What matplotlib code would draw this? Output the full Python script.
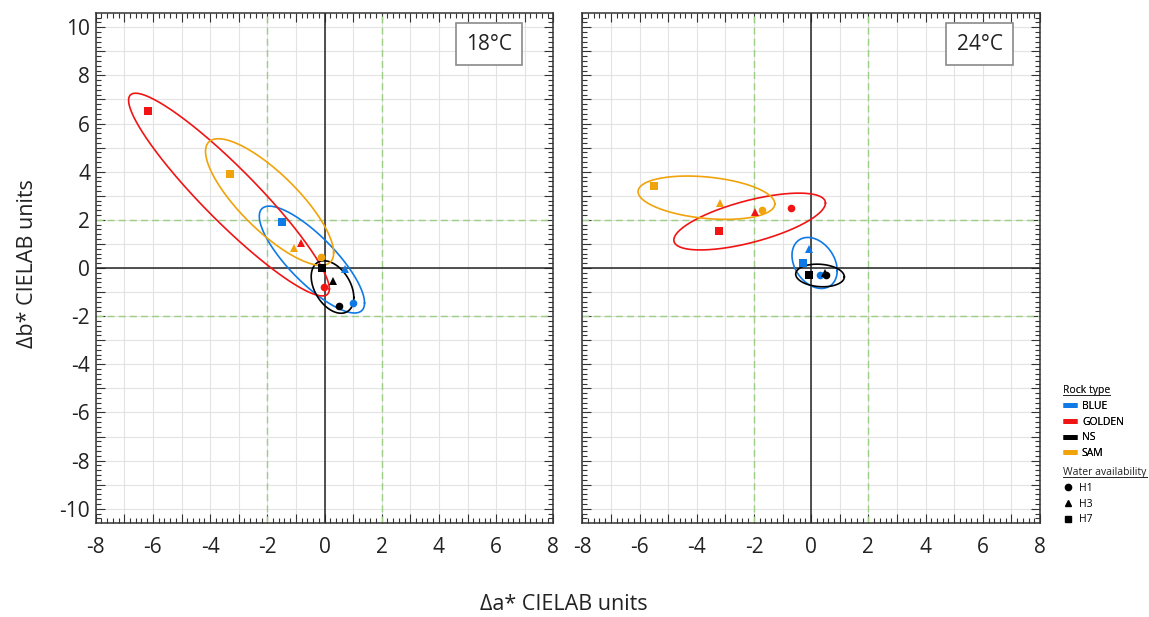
import numpy as np
import matplotlib
matplotlib.use("Agg")
import matplotlib.pyplot as plt
from matplotlib.lines import Line2D
from matplotlib.ticker import MultipleLocator

plt.rcParams['font.family'] = ['Open Sans', 'DejaVu Sans']

# ---------------- data ----------------
rock_types = ["BLUE", "GOLDEN", "NS", "SAM"]
rock_colors = ["#0f7ae5", "#f01414", "#000000", "#f0a30a"]
water = ["H1", "H3", "H7"]
water_markers = ["o", "^", "s"]

# 18 °C : (x, y) per rock type for H1, H3, H7
a18_blue = [0.99, 0.70, -1.49]
b18_blue = [-1.46, -0.05, 1.92]
a18_golden = [-0.01, -0.82, -6.18]
b18_golden = [-0.79, 1.05, 6.54]
a18_ns = [0.52, 0.30, -0.08]
b18_ns = [-1.56, -0.56, 0.00]
a18_sam = [-0.13, -1.08, -3.29]
b18_sam = [0.47, 0.83, 3.90]

# 24 °C
a24_blue = [0.31, -0.08, -0.27]
b24_blue = [-0.28, 0.78, 0.22]
a24_golden = [-0.72, -1.98, -3.22]
b24_golden = [2.50, 2.32, 1.55]
a24_ns = [0.51, 0.48, -0.06]
b24_ns = [-0.28, -0.20, -0.31]
a24_sam = [-1.72, -3.17, -5.49]
b24_sam = [2.39, 2.71, 3.40]

# ellipses: centre x, centre y, half-range x, half-range y, correlation (BLUE, GOLDEN, NS, SAM)
ell18_cx = [-0.44, -3.34, 0.28, -1.92]
ell18_cy = [0.35, 3.05, -0.79, 2.74]
ell18_rx = [1.84, 3.51, 0.745, 2.24]
ell18_ry = [2.22, 4.21, 1.09, 2.63]
ell18_rho = [-0.81, -0.93, -0.40, -0.80]

ell24_cx = [0.12, -2.15, 0.31, -3.66]
ell24_cy = [0.21, 1.93, -0.31, 2.92]
ell24_rx = [0.79, 2.65, 0.85, 2.39]
ell24_ry = [1.06, 1.18, 0.47, 0.90]
ell24_rho = [-0.30, 0.65, -0.12, -0.28]

panel_titles = ["18°C", "24°C"]
xticks = [-8, -6, -4, -2, 0, 2, 4, 6, 8]
yticks = [-10, -8, -6, -4, -2, 0, 2, 4, 6, 8, 10]

# ---------------- figure ----------------
W, H = 1149, 617
fig = plt.figure(figsize=(W / 100, H / 100), dpi=100)
ax1 = fig.add_axes([95.7 / W, 1 - 522.7 / H, 457.6 / W, 509.4 / H])
ax2 = fig.add_axes([582.3 / W, 1 - 522.7 / H, 457.7 / W, 509.4 / H])

panels = [
    (ax1, [(a18_blue, b18_blue), (a18_golden, b18_golden), (a18_ns, b18_ns), (a18_sam, b18_sam)],
     (ell18_cx, ell18_cy, ell18_rx, ell18_ry, ell18_rho), 0.8595),
    (ax2, [(a24_blue, b24_blue), (a24_golden, b24_golden), (a24_ns, b24_ns), (a24_sam, b24_sam)],
     (ell24_cx, ell24_cy, ell24_rx, ell24_ry, ell24_rho), 0.868),
]

t = np.linspace(0, 2 * np.pi, 400)
for i, (ax, pts, ell, tx) in enumerate(panels):
    ax.set_xlim(-8, 8)
    ax.set_ylim(-10.58, 10.58)
    ax.xaxis.set_minor_locator(MultipleLocator(0.2))
    ax.yaxis.set_minor_locator(MultipleLocator(0.2))
    ax.set_xticks([v for v in range(-8, 9)])
    ax.set_xticklabels([str(v) if v in xticks else "" for v in range(-8, 9)])
    ax.set_yticks([v for v in range(-10, 11)])
    if i == 0:
        ax.set_yticklabels([str(v) if v in yticks else "" for v in range(-10, 11)])
    else:
        ax.set_yticklabels([])
    ax.set_xlim(-8, 8)
    ax.set_ylim(-10.58, 10.58)
    ax.tick_params(which="both", direction="in", top=True, right=True,
                   color="#333333", width=0.8)
    ax.tick_params(which="major", length=6.5, labelsize=15, labelcolor="#222222")
    ax.tick_params(axis="x", which="major", pad=10.5)
    ax.tick_params(axis="y", which="major", pad=4)
    ax.tick_params(which="minor", length=3.5)
    for s in ax.spines.values():
        s.set_color("#333333")
        s.set_linewidth(1.1)
    ax.grid(True, which="major", color="#e3e3e3", lw=0.8, zorder=0)
    ax.set_axisbelow(True)
    for v in (-2, 2):
        ax.axvline(v, color="#9ccf85", lw=1.0, dashes=(5, 3), zorder=1)
        ax.axhline(v, color="#9ccf85", lw=1.0, dashes=(5, 3), zorder=1)
    ax.axvline(0, color="#222222", lw=1.1, zorder=2)
    ax.axhline(0, color="#222222", lw=1.1, zorder=2)

    cx, cy, rx, ry, rho = ell
    for k in range(4):
        phi = np.arccos(rho[k])
        ax.plot(cx[k] + rx[k] * np.cos(t), cy[k] + ry[k] * np.cos(t - phi),
                color=rock_colors[k], lw=1.2, zorder=3)
    for k in range(4):
        xs, ys = pts[k]
        for j in range(3):
            ax.plot(xs[j], ys[j], linestyle="none", marker=water_markers[j],
                    markersize=5.5 if water_markers[j] != "^" else 6,
                    color=rock_colors[k], markeredgewidth=0, zorder=4)

    ax.text(tx, 0.9397, panel_titles[i], transform=ax.transAxes, ha="center", va="center",
            fontsize=15, color="#222222",
            bbox=dict(boxstyle="square,pad=0.5", fc="white", ec="#8a8a8a", lw=1.2), zorder=6)

fig.text(564 / W, 1 - 604 / H, "Δa* CIELAB units", ha="center", va="center", fontsize=15.5,
         color="#222222")
fig.text(28 / W, 1 - 264 / H, "Δb* CIELAB units", ha="center", va="center", fontsize=15.5,
         rotation=90, color="#222222")

# legends
rock_handles = [Line2D([], [], color=c, lw=3.5, solid_capstyle="butt") for c in rock_colors]
leg1 = fig.legend(rock_handles, rock_types, loc="upper left",
                  bbox_to_anchor=(1058 / W, 1 - 380 / H), frameon=False, fontsize=7.5,
                  title="Rock type", title_fontsize=7.5, handlelength=1.3, handletextpad=0.5,
                  labelspacing=0.45, borderpad=0, alignment="left")
water_handles = [Line2D([], [], color="black", marker=m, linestyle="none", markersize=4.5)
                 for m in water_markers]
leg2 = fig.legend(water_handles, water, loc="upper left",
                  bbox_to_anchor=(1058 / W, 1 - 462 / H), frameon=False, fontsize=7.5,
                  title="Water availability", title_fontsize=7.5, handlelength=1.0,
                  handletextpad=0.5, labelspacing=0.45, borderpad=0, alignment="left")
fig.add_artist(leg1)

fig.canvas.draw()
r = fig.canvas.get_renderer()
for lg in (leg1, leg2):
    bb = lg.get_title().get_window_extent(r)
    y = (bb.y0 + 1) / H
    fig.add_artist(Line2D([bb.x0 / W, bb.x1 / W], [y, y], color="#222222", lw=0.7,
                          transform=fig.transFigure))
    lg.get_title().set_color("#222222")

fig.savefig("out.png", dpi=100)
